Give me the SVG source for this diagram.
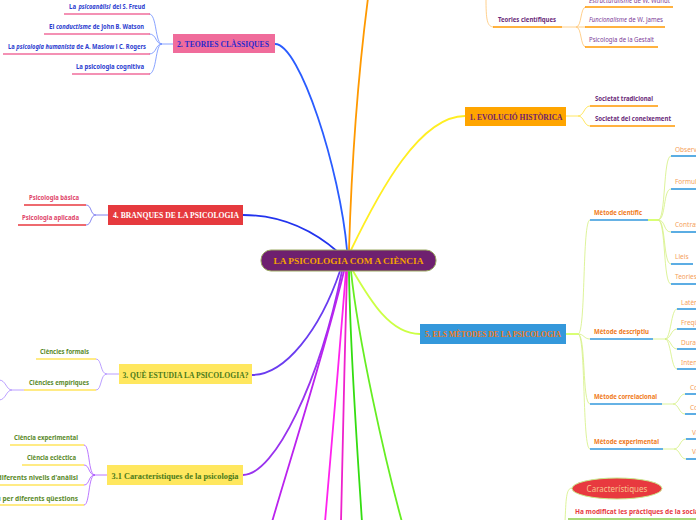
<svg xmlns="http://www.w3.org/2000/svg" width="696" height="520" viewBox="0 0 696 520">
<style>
.t{font-family:"Liberation Serif","DejaVu Serif",serif;font-weight:bold;font-size:9px}
.c{font-family:"Noto Sans","Liberation Sans",sans-serif;font-weight:bold;font-size:6.5px}
.n{font-family:"Noto Sans","Liberation Sans",sans-serif;font-size:6.5px}
.i{font-style:italic}
.ul{stroke-width:1.6;fill:none}
.k{fill:none;stroke-width:0.8}
.m{fill:none;stroke-width:1.8;stroke-linecap:round}
.blue{fill:#2b3ccf}.pur{fill:#6b2b7a}.pur2{fill:#7d3c98}.pink{fill:#e0456a}.grn{fill:#5a8a2a}.org{fill:#f07a20}.org2{fill:#f5a05a}
.upk{stroke:#f06c9b}.uor{stroke:#ff9900}.ured{stroke:#e8393f}.uye{stroke:#ffe55c}.ubl{stroke:#3399dd}
</style>
<rect width="696" height="520" fill="#ffffff"/>
<g id="connectors">
  <path class="m" stroke="#2a5cff" d="M275,44 C300,44 340,170 347,250"/>
  <path class="m" stroke="#ff9900" d="M349,250 C352,150 360,60 368,-2"/>
  <path class="m" stroke="#ffee22" d="M351,250 C380,190 420,116 465,116"/>
  <path class="m" stroke="#2233ee" d="M243,215 C285,215 315,232 338,252"/>
  <path class="m" stroke="#6a3cf0" d="M252,375 C285,375 320,330 340,271"/>
  <path class="m" stroke="#9933ee" d="M243,475 C275,475 320,380 342,271"/>
  <path class="m" stroke="#bb22ee" d="M344,271 C325,350 290,460 272,522"/>
  <path class="m" stroke="#ff22ee" d="M346,271 C340,350 330,460 325,522"/>
  <path class="m" stroke="#ee22cc" d="M347,271 C345,350 342,460 341,522"/>
  <path class="m" stroke="#33dd11" d="M349,271 C350,350 358,460 362,522"/>
  <path class="m" stroke="#66ee22" d="M351,271 C358,340 385,460 402,522"/>
  <path class="m" stroke="#ccff44" d="M353,271 C370,300 390,334 420,334"/>
  <g stroke="#6b8cff" class="k">
    <path d="M173,44 H162"/>
    <path d="M162,44 C155,44 157,14 149,14"/>
    <path d="M162,44 C155,44 157,34 149,34"/>
    <path d="M162,44 C155,44 157,54 149,54"/>
    <path d="M162,44 C155,44 157,74 149,74"/>
  </g>
  <g stroke="#6666ee" class="k">
    <path d="M108,215 H96"/>
    <path d="M96,215 C90,215 92,205 86,205"/>
    <path d="M96,215 C90,215 92,225 86,225"/>
  </g>
  <g stroke="#aa88ff" class="k">
    <path d="M119,374 H107"/>
    <path d="M107,374 C100,374 102,359 96,359"/>
    <path d="M107,374 C100,374 102,390 96,390"/>
    <path d="M24,390 H12"/>
    <path d="M12,390 C6,390 6,380 -1,380"/>
    <path d="M12,390 C6,390 6,400 -1,400"/>
  </g>
  <g stroke="#aa55ff" class="k">
    <path d="M107,475 H95"/>
    <path d="M95,475 C88,475 90,445 84,445"/>
    <path d="M95,475 C88,475 90,465 84,465"/>
    <path d="M95,475 C88,475 90,485 84,485"/>
    <path d="M95,475 C88,475 90,505 84,505"/>
  </g>
  <g stroke="#ffe03a" class="k">
    <path d="M566,116 H578"/>
    <path d="M578,116 C584,116 584,106 590,106"/>
    <path d="M578,116 C584,116 584,126 590,126"/>
  </g>
  <g stroke="#ffc470" class="k">
    <path d="M486,-2 C486,20 487,27 494,27"/>
    <path d="M562,27 H576"/>
    <path d="M576,27 C582,27 580,7 586,7"/>
    <path d="M576,27 H586"/>
    <path d="M576,27 C582,27 580,47 586,47"/>
  </g>
  <g stroke="#d4f080" class="k">
    <path d="M566,334 H578" stroke="#ccff44" stroke-width="1.5"/>
    <path d="M578,334 C586,334 582,220 590,220"/>
    <path d="M578,334 C584,334 584,339 590,339"/>
    <path d="M578,334 C586,334 582,404 590,404"/>
    <path d="M578,334 C586,334 582,449 590,449"/>
    <path d="M648,220 H658" stroke="#ccff44" stroke-width="1.5"/>
    <path d="M658,220 C666,220 663,156 671,156"/>
    <path d="M658,220 C666,220 663,189 671,189"/>
    <path d="M658,220 C666,220 663,232 671,232"/>
    <path d="M658,220 C666,220 663,264 671,264"/>
    <path d="M658,220 C666,220 663,284 671,284"/>
    <path d="M653,339 H665"/>
    <path d="M665,339 C671,339 671,309 677,309"/>
    <path d="M665,339 C671,339 671,329 677,329"/>
    <path d="M665,339 C671,339 671,349 677,349"/>
    <path d="M665,339 C671,339 671,369 677,369"/>
    <path d="M662,404 H673"/>
    <path d="M673,404 C679,404 679,394 685,394"/>
    <path d="M673,404 C679,404 679,414 685,414"/>
    <path d="M663,449 H674"/>
    <path d="M674,449 C680,449 680,439 686,439"/>
    <path d="M674,449 C680,449 680,459 686,459"/>
    <path d="M572,488 C566,488 566,500 565,522"/>
  </g>
</g>

<g id="central">
  <rect x="261" y="250" width="175" height="21" rx="10" fill="#6e206f" stroke="#9aa860" stroke-width="1"/>
  <text class="t" x="348.5" y="264.3" text-anchor="middle" fill="#f5a300" font-size="10" textLength="150" lengthAdjust="spacingAndGlyphs">LA PSICOLOGIA COM A CIÈNCIA</text>
</g>

<g id="teories-classiques">
  <rect x="173" y="34" width="102" height="19" fill="#f06c9b"/>
  <text class="t" x="223" y="46.8" text-anchor="middle" fill="#2a2acc" textLength="92" lengthAdjust="spacingAndGlyphs">2. TEORIES CLÀSSIQUES</text>
</g>
<g id="freud">
  <line class="ul upk" x1="64" y1="14" x2="150" y2="14"/>
  <text class="c blue" x="69" y="9" textLength="7" lengthAdjust="spacingAndGlyphs">La</text>
  <text class="c blue i" x="78.4" y="9" textLength="32" lengthAdjust="spacingAndGlyphs">psicoanàlisi</text>
  <text class="c blue" x="112.4" y="9" textLength="32.6" lengthAdjust="spacingAndGlyphs">del S. Freud</text>
</g>
<g id="watson">
  <line class="ul upk" x1="44" y1="34" x2="150" y2="34"/>
  <text class="c blue" x="49" y="29" textLength="5.4" lengthAdjust="spacingAndGlyphs">El</text>
  <text class="c blue i" x="56" y="29" textLength="35.1" lengthAdjust="spacingAndGlyphs">conductisme</text>
  <text class="c blue" x="92.7" y="29" textLength="51.3" lengthAdjust="spacingAndGlyphs">de John B. Watson</text>
</g>
<g id="maslow">
  <line class="ul upk" x1="3" y1="54" x2="150" y2="54"/>
  <text class="c blue" x="8" y="49" textLength="6.7" lengthAdjust="spacingAndGlyphs">La</text>
  <text class="c blue i" x="16.3" y="49" textLength="58.4" lengthAdjust="spacingAndGlyphs">psicologia humanista</text>
  <text class="c blue" x="76.3" y="49" textLength="69.7" lengthAdjust="spacingAndGlyphs">de A. Maslow i C. Rogers</text>
</g>
<g id="cognitiva">
  <line class="ul upk" x1="72" y1="74" x2="150" y2="74"/>
  <text class="c blue" x="144" y="69" text-anchor="end" textLength="68" lengthAdjust="spacingAndGlyphs">La psicologia cognitiva</text>
</g>

<g id="branques">
  <rect x="108" y="205" width="135" height="20" fill="#e63a3e"/>
  <text class="t" x="176" y="218" text-anchor="middle" fill="#ffffff" textLength="126" lengthAdjust="spacingAndGlyphs">4. BRANQUES DE LA PSICOLOGIA</text>
</g>
<g id="basica">
  <line class="ul ured" x1="24" y1="205" x2="86" y2="205"/>
  <text class="c pink" x="79" y="199.5" text-anchor="end" textLength="50" lengthAdjust="spacingAndGlyphs">Psicologia bàsica</text>
</g>
<g id="aplicada">
  <line class="ul ured" x1="18" y1="225" x2="86" y2="225"/>
  <text class="c pink" x="79" y="219.5" text-anchor="end" textLength="57" lengthAdjust="spacingAndGlyphs">Psicologia aplicada</text>
</g>

<g id="que-estudia">
  <rect x="119" y="364" width="133" height="20" fill="#ffe75e"/>
  <text class="t" x="185.5" y="377.5" text-anchor="middle" fill="#4a7a1a" textLength="126" lengthAdjust="spacingAndGlyphs">3. QUÈ ESTUDIA LA PSICOLOGIA?</text>
</g>
<g id="formals">
  <line class="ul uye" x1="36" y1="359" x2="96" y2="359"/>
  <text class="c grn" x="89" y="354" text-anchor="end" textLength="49" lengthAdjust="spacingAndGlyphs">Ciències formals</text>
</g>
<g id="empiriques">
  <line class="ul uye" x1="24" y1="390" x2="96" y2="390"/>
  <text class="c grn" x="89" y="385" text-anchor="end" textLength="60" lengthAdjust="spacingAndGlyphs">Ciències empíriques</text>
</g>

<g id="caracteristiques-psicologia">
  <rect x="107" y="465" width="136" height="20" fill="#ffe75e"/>
  <text class="t" x="175" y="478.5" text-anchor="middle" fill="#4a7a1a" font-size="9.5" textLength="127" lengthAdjust="spacingAndGlyphs">3.1 Característiques de la psicologia</text>
</g>
<g id="experimental">
  <line class="ul uye" x1="10" y1="445" x2="84" y2="445"/>
  <text class="c grn" x="78" y="439.5" text-anchor="end" textLength="64" lengthAdjust="spacingAndGlyphs">Ciència experimental</text>
</g>
<g id="eclectica">
  <line class="ul uye" x1="22" y1="465" x2="84" y2="465"/>
  <text class="c grn" x="76" y="460" text-anchor="end" textLength="49" lengthAdjust="spacingAndGlyphs">Ciència eclèctica</text>
</g>
<g id="nivells">
  <line class="ul uye" x1="-2" y1="485" x2="84" y2="485"/>
  <text class="c grn" x="78" y="480" text-anchor="end">Estudi des de diferents nivells d'anàlisi</text>
</g>
<g id="questions">
  <line class="ul uye" x1="-2" y1="505" x2="84" y2="505"/>
  <text class="c grn" x="78" y="500.5" text-anchor="end">Interès comú per diferents qüestions</text>
</g>

<g id="evolucio">
  <rect x="465" y="107" width="101" height="19" fill="#ffa500"/>
  <text class="t" x="516" y="119.8" text-anchor="middle" fill="#6e206f" textLength="93" lengthAdjust="spacingAndGlyphs">1. EVOLUCIÓ HISTÒRICA</text>
</g>
<g id="tradicional">
  <line class="ul uor" x1="590" y1="106" x2="658" y2="106"/>
  <text class="c pur" x="595" y="101" textLength="58" lengthAdjust="spacingAndGlyphs">Societat tradicional</text>
</g>
<g id="coneixement">
  <line class="ul uor" x1="590" y1="126" x2="675" y2="126"/>
  <text class="c pur" x="595" y="120.5" textLength="76" lengthAdjust="spacingAndGlyphs">Societat del coneixement</text>
</g>
<g id="teories-cientifiques">
  <line class="ul uor" x1="493" y1="27" x2="562" y2="27"/>
  <text class="c pur" x="498" y="22" textLength="58" lengthAdjust="spacingAndGlyphs">Teories científiques</text>
</g>
<g id="wundt">
  <line class="ul uor" x1="585" y1="7" x2="673" y2="7"/>
  <text class="n pur2 i" x="589" y="2.5" textLength="43.1" lengthAdjust="spacingAndGlyphs">Estructuralisme</text>
  <text class="n pur2" x="633.8" y="2.5" textLength="36.2" lengthAdjust="spacingAndGlyphs">de W. Wundt</text>
</g>
<g id="james">
  <line class="ul uor" x1="585" y1="27" x2="665" y2="27"/>
  <text class="n pur2 i" x="589" y="22" textLength="38" lengthAdjust="spacingAndGlyphs">Funcionalisme</text>
  <text class="n pur2" x="628.6" y="22" textLength="34.4" lengthAdjust="spacingAndGlyphs">de W. James</text>
</g>
<g id="gestalt">
  <line class="ul uor" x1="585" y1="47" x2="658" y2="47"/>
  <text class="n pur2" x="589" y="42" textLength="65" lengthAdjust="spacingAndGlyphs">Psicologia de la Gestalt</text>
</g>

<g id="metodes">
  <rect x="420" y="324" width="146" height="20" fill="#3498db"/>
  <text class="t" x="493" y="337.3" text-anchor="middle" fill="#f07a20" textLength="136" lengthAdjust="spacingAndGlyphs">5. ELS MÈTODES DE LA PSICOLOGIA</text>
</g>
<g id="metode-cientific">
  <line class="ul ubl" x1="590" y1="220" x2="648" y2="220"/>
  <text class="c org" x="594" y="214.5" textLength="48" lengthAdjust="spacingAndGlyphs">Mètode científic</text>
</g>
<g id="observacio">
  <line class="ul ubl" x1="671" y1="156" x2="698" y2="156"/>
  <text class="n org2" x="675" y="151.5">Observació</text>
</g>
<g id="formulacio">
  <line class="ul ubl" x1="671" y1="189" x2="698" y2="189"/>
  <text class="n org2" x="675" y="184">Formulació d'hipòtesis</text>
</g>
<g id="contrastacio">
  <line class="ul ubl" x1="671" y1="232" x2="698" y2="232"/>
  <text class="n org2" x="675" y="227">Contrastació d'hipòtesis</text>
</g>
<g id="lleis">
  <line class="ul ubl" x1="671" y1="264" x2="693" y2="264"/>
  <text class="n org2" x="675" y="259">Lleis</text>
</g>
<g id="teories-m">
  <line class="ul ubl" x1="671" y1="284" x2="698" y2="284"/>
  <text class="n org2" x="675" y="279">Teories</text>
</g>
<g id="metode-descriptiu">
  <line class="ul ubl" x1="590" y1="339" x2="653" y2="339"/>
  <text class="c org" x="594" y="334" textLength="55" lengthAdjust="spacingAndGlyphs">Mètode descriptiu</text>
</g>
<g id="latencia">
  <line class="ul ubl" x1="677" y1="309" x2="698" y2="309"/>
  <text class="n org2" x="681" y="304.5">Latència</text>
</g>
<g id="frequencia">
  <line class="ul ubl" x1="677" y1="329" x2="698" y2="329"/>
  <text class="n org2" x="681" y="324.5">Freqüència</text>
</g>
<g id="durada">
  <line class="ul ubl" x1="677" y1="349" x2="698" y2="349"/>
  <text class="n org2" x="681" y="344.5">Durada</text>
</g>
<g id="intensitat">
  <line class="ul ubl" x1="677" y1="369" x2="698" y2="369"/>
  <text class="n org2" x="681" y="364.5">Intensitat</text>
</g>
<g id="metode-correlacional">
  <line class="ul ubl" x1="590" y1="404" x2="662" y2="404"/>
  <text class="c org" x="594" y="399" textLength="63" lengthAdjust="spacingAndGlyphs">Mètode correlacional</text>
</g>
<g id="corr-positiva">
  <line class="ul ubl" x1="685" y1="394" x2="698" y2="394"/>
  <text class="n org2" x="690" y="389.5">Correlació positiva</text>
</g>
<g id="corr-negativa">
  <line class="ul ubl" x1="685" y1="414" x2="698" y2="414"/>
  <text class="n org2" x="690" y="409.5">Correlació negativa</text>
</g>
<g id="metode-experimental">
  <line class="ul ubl" x1="590" y1="449" x2="663" y2="449"/>
  <text class="c org" x="594" y="444" textLength="65" lengthAdjust="spacingAndGlyphs">Mètode experimental</text>
</g>
<g id="var-independent">
  <line class="ul ubl" x1="686" y1="439" x2="698" y2="439"/>
  <text class="n org2" x="692" y="434.5">Variable independent</text>
</g>
<g id="var-dependent">
  <line class="ul ubl" x1="686" y1="459" x2="698" y2="459"/>
  <text class="n org2" x="692" y="453.5">Variable dependent</text>
</g>

<g id="caracteristiques">
  <ellipse cx="617" cy="488.5" rx="45" ry="10.5" fill="#e8393f" stroke="#c8e88a" stroke-width="1"/>
  <text x="617" y="491.5" text-anchor="middle" font-family="Noto Sans, Liberation Sans, sans-serif" font-size="8" fill="#f7c38e">Característiques</text>
</g>
<g id="sociabilitat">
  <line class="ul" stroke="#8ccc4a" x1="568" y1="519" x2="698" y2="519"/>
  <text class="c" fill="#e8393f" x="575" y="514">Ha modificat les pràctiques de la sociabilitat</text>
</g>
</svg>
